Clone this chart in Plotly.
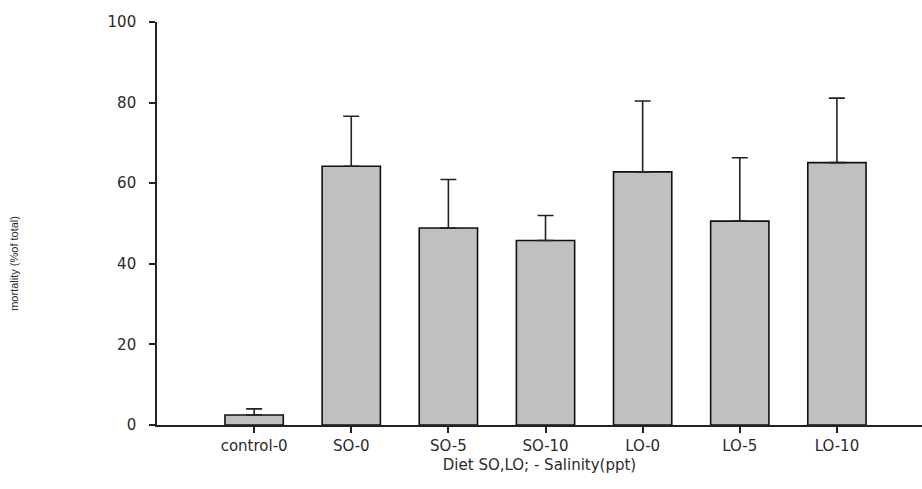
import plotly.graph_objects as go

categories = ["control-0", "SO-0", "SO-5", "SO-10", "LO-0", "LO-5", "LO-10"]
mortality = [2.5, 64.2, 48.9, 45.8, 62.8, 50.6, 65.1]
error_plus = [1.5, 12.4, 12.0, 6.2, 17.6, 15.7, 16.0]
y_ticks = [0, 20, 40, 60, 80, 100]

x_idx = list(range(len(categories)))

fig = go.Figure()
fig.add_trace(go.Bar(
    x=x_idx, y=mortality, width=0.6,
    marker=dict(color="#c0c0c0", line=dict(color="#111111", width=1.6)),
    error_y=dict(type="data", array=error_plus, symmetric=False,
                 arrayminus=[0] * len(categories),
                 color="#222222", thickness=1.6, width=8),
    showlegend=False,
))

font_family = "DejaVu Sans"
fig.update_layout(
    width=922, height=489,
    margin=dict(l=157, r=0, t=22, b=64),
    plot_bgcolor="white", paper_bgcolor="white",
    font=dict(family=font_family, color="#2a2a2a"),
    xaxis=dict(
        range=[-1, 6.876], tickmode="array", tickvals=x_idx, ticktext=categories,
        showline=True, linecolor="#222222", linewidth=1.6,
        ticks="outside", ticklen=6, tickwidth=1.5, tickcolor="#222222",
        showgrid=False, zeroline=False,
        tickfont=dict(size=15, family=font_family, color="#2a2a2a"),
        title=dict(text="Diet SO,LO; - Salinity(ppt)", standoff=6,
                   font=dict(size=15, family=font_family, color="#2a2a2a")),
    ),
    yaxis=dict(
        range=[0, 100], tickmode="array", tickvals=y_ticks,
        showline=True, linecolor="#222222", linewidth=1.6,
        ticks="outside", ticklen=6, tickwidth=1.5, tickcolor="#222222",
        showgrid=False, zeroline=False, ticklabelstandoff=10,
        tickfont=dict(size=15, family=font_family, color="#2a2a2a"),
    ),
    annotations=[dict(
        text="mortality (%of total)", textangle=-90,
        xref="paper", yref="paper", x=-143 / 765, y=0.40,
        xanchor="center", yanchor="middle", showarrow=False,
        font=dict(size=11, family="Liberation Sans", color="#2a2a2a"),
    )],
)

fig.write_html("out.html")
